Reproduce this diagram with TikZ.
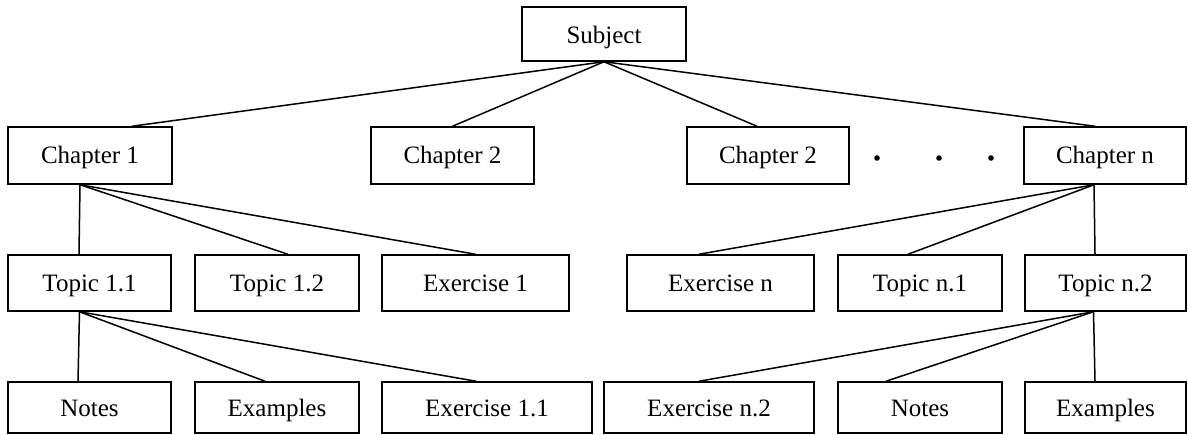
\documentclass[tikz,border=0pt]{standalone}
\usepackage{fontspec}
\setmainfont{Liberation Serif}
\begin{document}
\begin{tikzpicture}[x=1pt,y=-1pt,
  box/.style={draw, line width=1.5pt, inner sep=0pt, text height=17pt, text depth=0pt,
    font=\fontsize{25}{30}\selectfont},
  r1/.style={box, minimum height=54pt, text height=20pt},
  r2/.style={box, minimum height=57pt},
  r3/.style={box, minimum height=56pt},
  r4/.style={box, minimum height=51pt},
  conn/.style={line width=1.5pt},
  dotmark/.style={fill=black}]
\useasboundingbox (0,0) rectangle (1188,435);
% row 1
\node[r1, minimum width=164pt] (sub) at (604,34) {Subject};
% row 2
\node[r2, minimum width=164pt] (c1) at (90,155.5) {Chapter 1};
\node[r2, minimum width=163pt] (c2) at (452.5,155.5) {Chapter 2};
\node[r2, minimum width=162pt] (c3) at (768,155.5) {Chapter 2};
\node[r2, minimum width=162pt] (cn) at (1105,155.5) {Chapter n};
% row 3
\node[r3, minimum width=163pt] (t11) at (89.5,283) {Topic 1.1};
\node[r3, minimum width=164pt] (t12) at (277,283) {Topic 1.2};
\node[r3, minimum width=187pt] (e1) at (475.5,283) {Exercise 1};
\node[r3, minimum width=187pt] (en) at (720.5,283) {Exercise n};
\node[r3, minimum width=164pt] (tn1) at (920,283) {Topic n.1};
\node[r3, minimum width=161pt] (tn2) at (1105.5,283) {Topic n.2};
% row 4
\node[r4, minimum width=163pt] (n1) at (89.5,407.5) {Notes};
\node[r4, minimum width=164pt] (x1) at (277,407.5) {Examples};
\node[r4, minimum width=210pt] (e11) at (487,407.5) {Exercise 1.1};
\node[r4, minimum width=210pt] (en2) at (709,407.5) {Exercise n.2};
\node[r4, minimum width=164pt] (nn) at (920,407.5) {Notes};
\node[r4, minimum width=161pt] (xn) at (1105.5,407.5) {Examples};
% dots
\fill[dotmark] (877,158) circle (2.8pt);
\fill[dotmark] (939,158) circle (2.8pt);
\fill[dotmark] (991,158) circle (2.8pt);
% connectors
\draw[conn] (sub.south) -- ([xshift=42pt]c1.north);
\draw[conn] (sub.south) -- (c2.north);
\draw[conn] (sub.south) -- ([xshift=-11pt]c3.north);
\draw[conn] (sub.south) -- ([xshift=-10pt]cn.north);
\draw[conn] ([xshift=-10pt]c1.south) -- ([xshift=-10.5pt]t11.north);
\draw[conn] ([xshift=-10pt]c1.south) -- ([xshift=11pt]t12.north);
\draw[conn] ([xshift=-10pt]c1.south) -- (e1.north);
\draw[conn] ([xshift=-11pt]cn.south) -- ([xshift=-21.5pt]en.north);
\draw[conn] ([xshift=-11pt]cn.south) -- ([xshift=-12pt]tn1.north);
\draw[conn] ([xshift=-11pt]cn.south) -- ([xshift=-10.5pt]tn2.north);
\draw[conn] ([xshift=-10pt]t11.south) -- ([xshift=-11.5pt]n1.north);
\draw[conn] ([xshift=-10pt]t11.south) -- ([xshift=-12pt]x1.north);
\draw[conn] ([xshift=-10pt]t11.south) -- ([xshift=-11pt]e11.north);
\draw[conn] ([xshift=-12pt]tn2.south) -- ([xshift=-10pt]en2.north);
\draw[conn] ([xshift=-12pt]tn2.south) -- ([xshift=-34pt]nn.north);
\draw[conn] ([xshift=-12pt]tn2.south) -- ([xshift=-10.5pt]xn.north);
\end{tikzpicture}
\end{document}
